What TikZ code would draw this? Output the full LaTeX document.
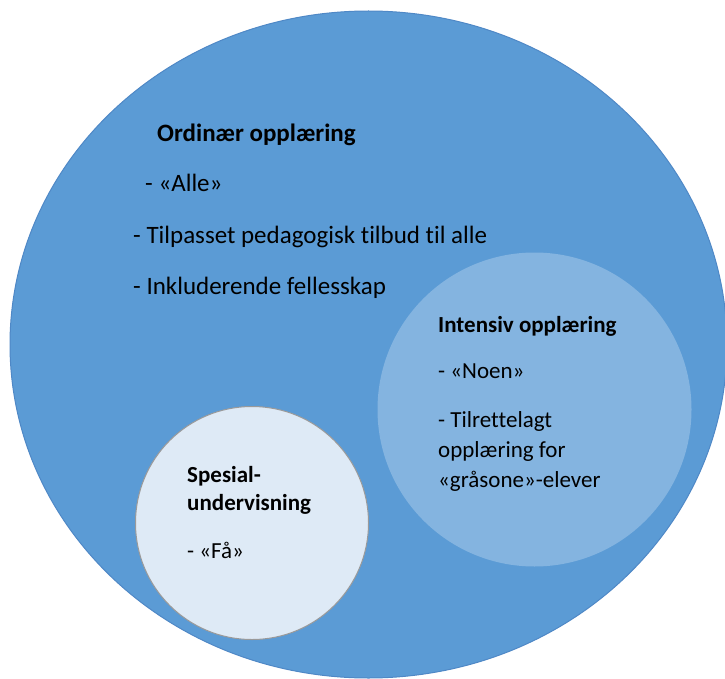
\documentclass[tikz,border=0pt]{standalone}
\usepackage{fontspec}
\setmainfont{Carlito}[Ligatures=NoCommon]
\usepackage{tikz}
\usetikzlibrary{positioning}
\definecolor{ordblue}{HTML}{5B9BD5}
\definecolor{ordedge}{HTML}{4F88C6}
\definecolor{intblue}{HTML}{84B4E0}
\definecolor{spesblue}{HTML}{DEEAF6}
\definecolor{spesedge}{HTML}{9A9A9A}
\tikzset{
  txt/.style={anchor=base west, inner sep=0pt, text=black,
              font=\fontsize{25}{30}\selectfont},
  head/.style={txt, font=\fontsize{25}{30}\selectfont\bfseries},
  small/.style={font=\fontsize{23}{28}\selectfont},
  smallhead/.style={font=\fontsize{23}{28}\selectfont\bfseries}
}

\begin{document}
\begin{tikzpicture}[x=1pt,y=-1pt]
   \useasboundingbox (0,0) rectangle (725,679);

   % Ordinaer opplaering
   \draw[ordedge, fill=ordblue, line width=1pt] (368.5,344.5) ellipse (358.5 and 333.5);
   \node[head] (ord) at (157,142) {Ordinær opplæring};
   \node[txt] (alle) at (145,192) {- «Alle»};
   \node[txt] (tilpasset) at (133,243) {- Tilpasset pedagogisk tilbud til alle};
   \node[txt] (inkl) at (133,294) {- Inkluderende fellesskap};

   % Intensiv opplaering
   \fill[intblue] (534.5,409.5) circle (157);
   \node[head, smallhead] (int) at (438,332) {Intensiv opplæring};
   \node[txt, small] (noen) at (438,378) {- «Noen»};
   \node[txt, small] (tilrett) at (438,427) {- Tilrettelagt};
   \node[txt, small] (tilrett2) at (438,457) {opplæring for};
   \node[txt, small] (tilrett3) at (438,487) {«gråsone»-elever};

   % Spesialundervisning
   \draw[spesedge, fill=spesblue, line width=1pt] (252,523) circle (116.5);
   \node[head, smallhead] (spes) at (187,482) {Spesial-};
   \node[head, smallhead] (spes2) at (187,510) {undervisning};
   \node[txt, small] (faa) at (187,558) {- «Få»};
\end{tikzpicture}
\end{document}
